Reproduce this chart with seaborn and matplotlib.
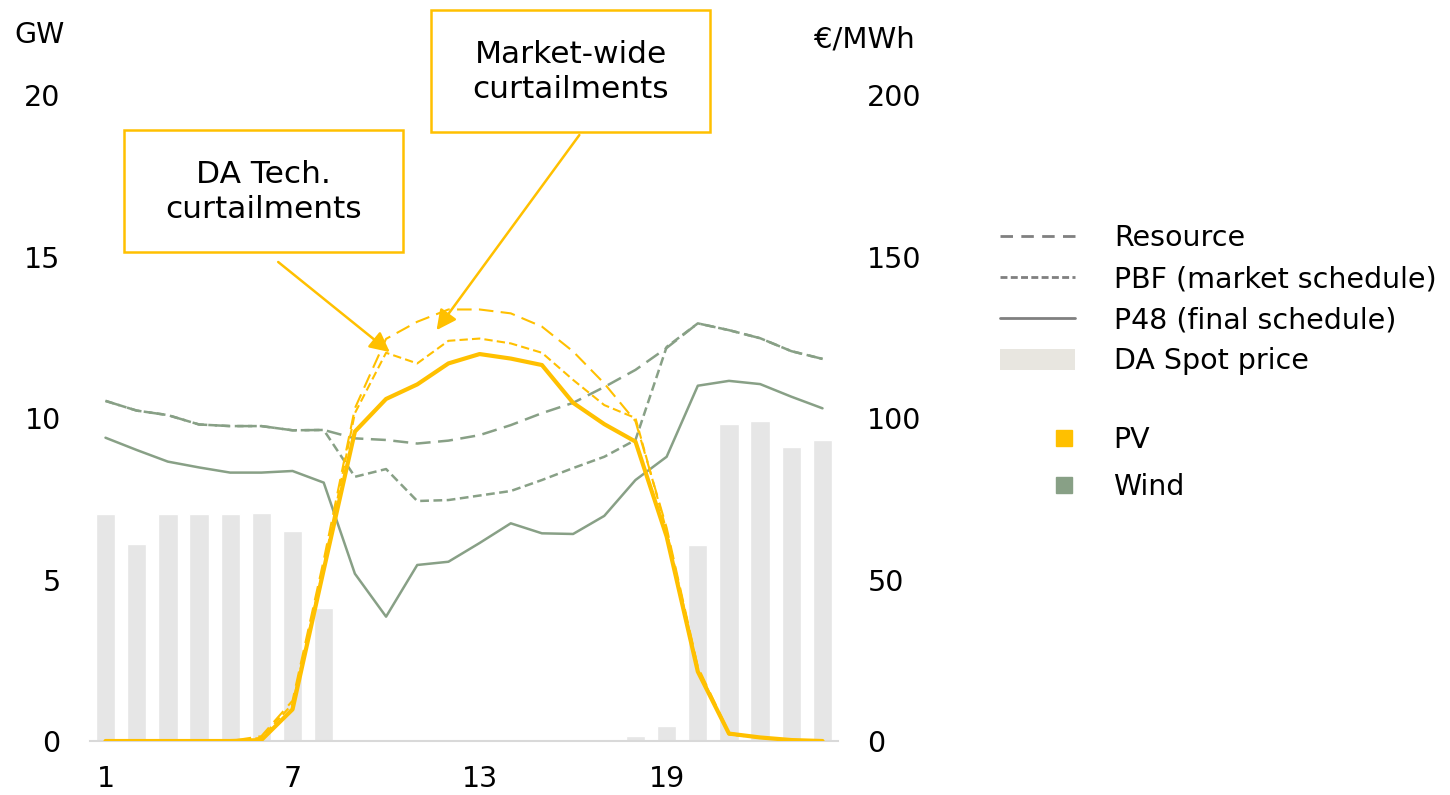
import matplotlib
matplotlib.use("Agg")
import matplotlib.pyplot as plt
from matplotlib.lines import Line2D
from matplotlib.patches import Patch, Rectangle
import seaborn as sns

# Hourly data (hour of day 1..24)
hours = list(range(1, 25))

# Day-ahead spot price, EUR/MWh
spot_price = [70.3, 61.0, 70.3, 70.3, 70.3, 70.6, 65.1, 41.2, 0, 0, 0, 0,
              0, 0, 0, 0, 0, 1.5, 4.6, 60.7, 98.1, 99.1, 91.0, 93.1]

# PV generation, GW
pv_resource = [0, 0, 0, 0, 0, 0.15, 1.25, 5.6, 10.3, 12.45, 12.98, 13.36,
               13.36, 13.24, 12.83, 12.06, 11.07, 9.9, 6.6, 2.3, 0.25, 0.1, 0.03, 0]
pv_pbf = [0, 0, 0, 0, 0, 0.1, 1.15, 5.4, 10.15, 12.02, 11.69, 12.39,
          12.46, 12.31, 12.02, 11.18, 10.4, 10.0, 6.5, 2.25, 0.2, 0.1, 0.03, 0]
pv_p48 = [0, 0, 0, 0, 0, 0.03, 0.98, 5.3, 9.58, 10.59, 11.04, 11.69,
          11.98, 11.84, 11.64, 10.47, 9.81, 9.27, 6.33, 2.15, 0.23, 0.11, 0.03, 0]

# Wind generation, GW
wind_resource = [10.53, 10.23, 10.09, 9.80, 9.75, 9.75, 9.62, 9.63, 9.37, 9.32, 9.21, 9.30,
                 9.47, 9.78, 10.15, 10.47, 10.96, 11.49, 12.17, 12.93, 12.72, 12.47, 12.07, 11.83]
wind_pbf = [10.53, 10.23, 10.09, 9.80, 9.75, 9.75, 9.62, 9.63, 8.18, 8.42, 7.43, 7.46,
            7.60, 7.74, 8.08, 8.45, 8.80, 9.32, 12.2, 12.93, 12.72, 12.47, 12.07, 11.83]
wind_p48 = [9.39, 9.01, 8.65, 8.47, 8.31, 8.31, 8.36, 8.0, 5.18, 3.85, 5.45, 5.55,
            6.13, 6.74, 6.43, 6.41, 6.97, 8.08, 8.8, 11.0, 11.15, 11.05, 10.66, 10.3]

gw_ticks = [0, 5, 10, 15, 20]
price_ticks = [0, 50, 100, 150, 200]
hour_ticks = [1, 7, 13, 19]

YELLOW = "#FFC000"
GREEN = "#88A086"
BAR = "#E6E6E6"
GREY = "#808080"
FS = 20.5
BOX_FS = 22.5

sns.set_theme(style="white")
plt.rcParams["font.family"] = ["DejaVu Sans"]
plt.rcParams["text.color"] = "black"

fig = plt.figure(figsize=(14.5, 7.95), dpi=100)
ax_p = fig.add_axes([0.062, 0.0679, 0.516, 0.8126])

# Price bars (right axis)
sns.barplot(x=hours, y=spot_price, native_scale=True, width=0.62, color=BAR,
            saturation=1, errorbar=None, ax=ax_p)

# Generation lines (left axis)
ax_g = ax_p.twinx()
ax_g.yaxis.tick_left()
ax_p.yaxis.tick_right()

ax_p.set_ylim(0, 200)
ax_p.set_xlim(0.5, 24.5)
ax_p.set_yticks(price_ticks)
ax_p.set_xticks(hour_ticks)
ax_p.set_xlabel("")
ax_p.set_ylabel("")
ax_p.tick_params(axis="y", length=0, pad=21, labelsize=FS, colors="black")
ax_p.tick_params(axis="x", length=0, pad=17, labelsize=FS, colors="black")
for s in ["top", "left", "right"]:
    ax_p.spines[s].set_visible(False)
ax_p.spines["bottom"].set_color("#D9D9D9")
ax_p.spines["bottom"].set_linewidth(1.5)

LONG = (0, (6, 3))
SHORT = (0, (3.5, 1.8))
sns.lineplot(x=hours, y=wind_resource, ax=ax_g, color=GREEN, lw=1.8, linestyle=LONG)
sns.lineplot(x=hours, y=wind_pbf, ax=ax_g, color=GREEN, lw=1.8, linestyle=SHORT)
sns.lineplot(x=hours, y=wind_p48, ax=ax_g, color=GREEN, lw=1.8)
sns.lineplot(x=hours, y=pv_resource, ax=ax_g, color=YELLOW, lw=1.5, linestyle=(0, (7, 3.5)))
sns.lineplot(x=hours, y=pv_pbf, ax=ax_g, color=YELLOW, lw=1.5, linestyle=(0, (4, 2)))
sns.lineplot(x=hours, y=pv_p48, ax=ax_g, color=YELLOW, lw=3.0)
ax_g.set_ylim(0, 20)
ax_g.set_xlim(0.5, 24.5)
ax_g.set_yticks(gw_ticks)
ax_g.set_ylabel("")
ax_g.tick_params(axis="y", length=0, pad=21, labelsize=FS, colors="black")
for s in ["top", "left", "right", "bottom"]:
    ax_g.spines[s].set_visible(False)

# Unit labels
fig.text(40 / 1450, 1 - 35 / 795, "GW", ha="center", va="center", fontsize=FS)
fig.text(864 / 1450, 1 - 40 / 795, "€/MWh", ha="center", va="center", fontsize=FS + 0.5)

# Callout boxes with arrows
arrow_kw = dict(arrowstyle="-|>", color=YELLOW, lw=1.8, mutation_scale=30,
                shrinkA=0, shrinkB=0)
ax_g.annotate("", xy=(10.12, 12.04), xytext=(6.54, 14.83), arrowprops=arrow_kw)
ax_g.annotate("", xy=(11.62, 12.72), xytext=(16.2, 18.76), arrowprops=arrow_kw,
              annotation_clip=False)

for (x0, y0, x1, y1, txt) in [
    (124, 130, 403, 252, "DA Tech.\ncurtailments"),
    (431, 10, 710, 132, "Market-wide\ncurtailments"),
]:
    fig.add_artist(Rectangle((x0 / 1450, 1 - y1 / 795), (x1 - x0) / 1450, (y1 - y0) / 795,
                             transform=fig.transFigure, facecolor="white",
                             edgecolor=YELLOW, lw=1.8))
    fig.text((x0 + x1) / 2 / 1450, 1 - (y0 + y1 + 2) / 2 / 795, txt, ha="center", va="center",
             fontsize=BOX_FS, linespacing=1.3)

# Legends
style_handles = [
    Line2D([], [], color=GREY, lw=2, linestyle=(0, (4.5, 3))),
    Line2D([], [], color=GREY, lw=2, linestyle=(0, (2.5, 1.2))),
    Line2D([], [], color=GREY, lw=2),
    Patch(facecolor="#E8E6E0", edgecolor="none"),
]
style_labels = ["Resource", "PBF (market schedule)", "P48 (final schedule)", "DA Spot price"]
fig.legend(style_handles, style_labels, loc="upper left",
           bbox_to_anchor=(1000 / 1450, 1 - 224 / 795), frameon=False, fontsize=FS,
           handlelength=2.65, handleheight=0.8, handletextpad=1.35, labelspacing=0.46,
           borderpad=0, borderaxespad=0)

tech_handles = [
    Line2D([], [], color=YELLOW, marker="s", markersize=12, linestyle="none"),
    Line2D([], [], color=GREEN, marker="s", markersize=12, linestyle="none"),
]
fig.legend(tech_handles, ["PV", "Wind"], loc="upper left",
           bbox_to_anchor=(1053 / 1450, 1 - 426 / 795), frameon=False, fontsize=FS,
           handlelength=0.75, handletextpad=1.35, labelspacing=0.67,
           borderpad=0, borderaxespad=0)

fig.savefig("out.png", dpi=100)
